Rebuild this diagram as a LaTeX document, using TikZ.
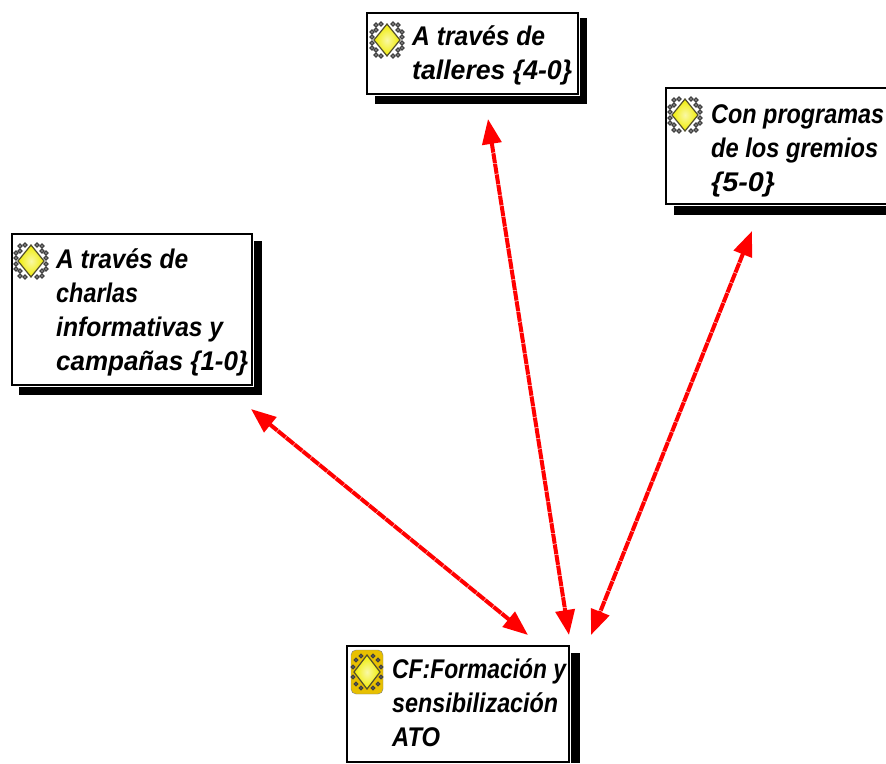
\documentclass[tikz,border=0pt]{standalone}
\usepackage{fontspec}
\usepackage{graphicx}
\setmainfont{Liberation Sans}
\usetikzlibrary{arrows.meta}
\definecolor{iconyellow}{HTML}{F0EC00}
\definecolor{icongold}{HTML}{E8C000}
\tikzset{
  x=1pt,y=-1pt,
  boxframe/.style={draw=black,line width=2pt,fill=white,preaction={draw=white,line width=4.4pt},minimum width=#1,anchor=north west,inner sep=0pt,outer sep=0pt},
  boxshadow/.style={fill=black,draw=none},
  lbl/.style={font=\fontsize{27}{34}\selectfont\bfseries\itshape,anchor=north west,align=left,inner sep=0pt,text=black},
  link/.style={draw=red,line width=4pt,dash pattern=on 10pt off 0.7pt,{Triangle[length=25pt,width=19pt]}-{Triangle[length=25pt,width=19pt]}},
  ring/.style={draw=black!75,line width=1.4pt,fill=white},
  gem/.style={draw=black!55!olive,line width=1.2pt,inner color=iconyellow!35!white,outer color=iconyellow}
}
\newcommand{\fitw}[2]{\rule{0pt}{24pt}\resizebox{#1pt}{\height}{#2}}
\newcommand{\iconmark}[1]{%
  \begin{scope}[shift={(#1)}]
    \foreach \a/\b in {-6/-16,-11/-15,-11/-10,-15/-8,-15/-3,6/-16,11/-15,11/-10,15/-8,15/-3,-6/16,-11/15,-11/10,-15/8,-15/3,6/16,11/15,11/10,15/8,15/3}
      \draw[ring] (\a,\b) circle (1.9);
    \draw[gem] (0,-16) -- (13,0) -- (0,16) -- (-13,0) -- cycle;
  \end{scope}}
\begin{document}
\begin{tikzpicture}
\useasboundingbox (0,0) rectangle (886,763);
% shadows
\path[boxshadow] (375,18) rectangle (587,104);
\path[boxshadow] (674,95) rectangle (886,215);
\path[boxshadow] (19,241) rectangle (262,395);
\path[boxshadow] (355,653) rectangle (580,763);
% frames
\node[boxframe=211pt,minimum height=81pt] (top) at (367,13) {};
\node[boxframe=225pt,minimum height=116pt] (right) at (666,88) {};
\node[boxframe=240pt,minimum height=151pt] (left) at (12,234) {};
\node[boxframe=222pt,minimum height=116pt] (bottom) at (347,646) {};
% icons
\iconmark{387,40}
\iconmark{685,115}
\iconmark{31,261}
\begin{scope}[shift={(367,672)}]
  \fill[icongold,draw=black!50,rounded corners=5pt] (-16,-22) rectangle (16,22);
  \foreach \a/\b in {-6/-16,6/-16,-11/-12,11/-12,-14/-5,14/-5,-14/5,14/5,-11/12,11/12,-6/16,6/16}
    \draw[ring] (\a,\b) circle (1.7);
  \draw[gem] (0,-17) -- (13,0) -- (0,17) -- (-13,0) -- cycle;
\end{scope}
% labels
\node[lbl] (ttop) at (412,21) {\fitw{133}{A través de}\\\fitw{160}{talleres \{4-0\}}};
\node[lbl] (tright) at (711,99) {\fitw{173}{Con programas}\\\fitw{167}{de los gremios}\\\fitw{64}{\{5-0\}}};
\node[lbl] (tleft) at (56,244) {\fitw{132}{A través de}\\\fitw{82}{charlas}\\\fitw{167}{informativas y}\\\fitw{192}{campañas \{1-0\}}};
\node[lbl] (tbottom) at (392,654) {\fitw{174}{CF:Formación y}\\\fitw{166}{sensibilización}\\\fitw{48}{ATO}};
% connector ends
\coordinate (aL) at (251,409);
\coordinate (bL) at (528,635);
\coordinate (aT) at (488,119);
\coordinate (bT) at (569,635);
\coordinate (aR) at (752,231);
\coordinate (bR) at (591,635);
\draw[link] (aL) -- (bL);
\draw[link] (aT) -- (bT);
\draw[link] (aR) -- (bR);
\end{tikzpicture}
\end{document}
